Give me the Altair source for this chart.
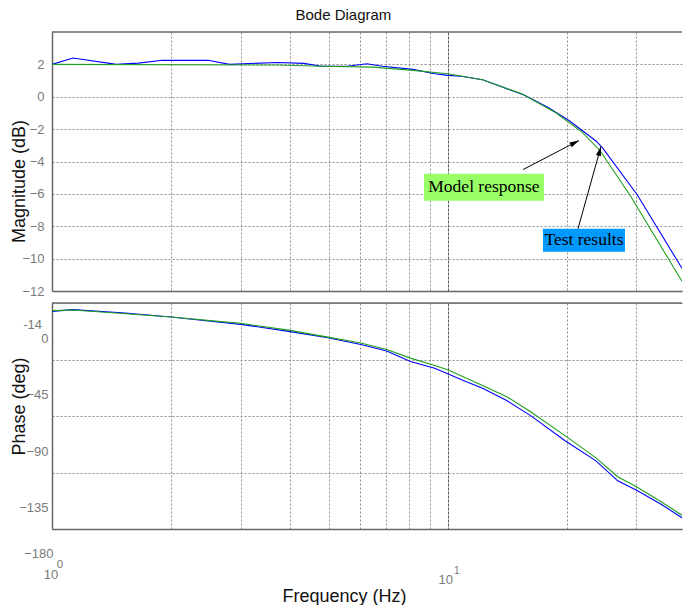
import altair as alt
import pandas as pd

# ---------------- data ----------------
# Magnitude, test results (blue)
mag_test_f = [1.0, 1.13, 1.455, 1.652, 1.9, 2.48, 2.81, 3.72, 4.33, 4.80, 5.58, 6.25,
              6.84, 8.17, 9.27, 10.0, 10.8, 12.25, 15.6, 17.9, 20.3, 23.7, 24.6, 30.1, 39.1]
mag_test_db = [2.0, 2.39, 2.0, 2.08, 2.25, 2.25, 2.0, 2.12, 2.06, 1.88, 1.88, 2.04,
               1.88, 1.69, 1.42, 1.32, 1.27, 1.05, 0.11, -0.65, -1.48, -2.73, -3.14, -6.04, -10.6]
# Magnitude, model response (green)
mag_model_f = [1.0, 3.72, 4.80, 6.5, 8.17, 10.0, 12.25, 15.4, 18.8, 21.9, 24.3, 29.0, 39.1]
mag_model_db = [2.0, 1.96, 1.88, 1.83, 1.63, 1.42, 1.05, 0.18, -1.0, -2.2, -3.35, -6.15, -11.4]

# Phase, test results (blue)
ph_test_f = [1.0, 1.13, 1.53, 2.0, 3.0, 3.96, 4.98, 6.03, 7.01, 8.05, 9.27, 10.0, 10.8,
             12.25, 14.1, 16.2, 19.8, 23.7, 26.9, 30.1, 34.7, 39.1]
ph_test_deg = [-6.7, -5.3, -8.0, -11.2, -17.0, -22.6, -27.7, -33.0, -38.3, -46.6, -51.9,
               -56.4, -61.0, -67.9, -77.7, -89.7, -109.7, -125.7, -141.6, -149.3, -160.5, -171.0]
# Phase, model response (green)
ph_model_f = [1.0, 1.13, 2.0, 3.0, 3.96, 4.98, 6.03, 7.01, 8.05, 9.27, 10.0, 12.25, 14.1,
              16.2, 20.0, 23.7, 26.9, 30.0, 34.7, 39.1]
ph_model_deg = [-6.1, -5.6, -11.2, -16.2, -21.6, -27.2, -31.9, -37.0, -43.9, -49.8, -53.2,
                -65.8, -74.6, -86.6, -106.6, -123.3, -138.4, -146.4, -158.5, -169.0]

# axis ticks / grid
grid_f = [1, 2, 3, 4, 5, 6, 7, 8, 9, 10, 20, 30]
mag_ticks = [2, 0, -2, -4, -6, -8, -10, -12]
phase_ticks = [0, -45, -90, -135, -180]
freq_domain = [1, 39.1]
mag_domain = [-12, 4]
phase_domain = [-180, 0]

# annotations (label boxes and arrows, in data units)
ann_text = ["Model response", "Test results"]
ann_fill = ["#99ff66", "#0099ff"]
ann_box_f0 = [8.71, 17.41]
ann_box_f1 = [17.51, 28.06]
ann_box_db0 = [-4.75, -8.15]
ann_box_db1 = [-6.42, -9.57]
ann_text_f = [12.35, 22.1]
ann_text_db = [-5.58, -8.86]
arrow_f0 = [15.5, 21.35]
arrow_db0 = [-4.5, -8.15]
arrow_f1 = [21.47, 24.4]
arrow_db1 = [-2.7, -3.07]
arrow_angle = [62.4, 15.4]

# ---------------- styling ----------------
BLUE = "#0000ff"
GREEN = "#1f9f1f"
LABEL_GRAY = "#7a7a7a"
BORDER = "#666666"
GRID = "#8f8f8f"
FONT = "Liberation Sans"
SERIF = "Liberation Serif"
W = 630

x_scale = alt.Scale(type="log", domain=freq_domain, nice=False)
grid_color = alt.condition("datum.value == 10", alt.value("#5a5a5a"), alt.value(GRID))
grid_dash = alt.condition("datum.value == 10", alt.value([3, 1]), alt.value([2, 2]))

mag_t = pd.DataFrame({"f": mag_test_f, "v": mag_test_db})
mag_m = pd.DataFrame({"f": mag_model_f, "v": mag_model_db})
ph_t = pd.DataFrame({"f": ph_test_f, "v": ph_test_deg})
ph_m = pd.DataFrame({"f": ph_model_f, "v": ph_model_deg})
boxes_df = pd.DataFrame({"f": ann_box_f0, "f2": ann_box_f1, "v": ann_box_db0, "v2": ann_box_db1,
                         "fill": ann_fill})
texts_df = pd.DataFrame({"f": ann_text_f, "v": ann_text_db, "text": ann_text})
shafts_df = pd.DataFrame({"f": arrow_f0, "f2": arrow_f1, "v": arrow_db0, "v2": arrow_db1})
heads_df = pd.DataFrame({"f": arrow_f1, "v": arrow_db1, "ang": arrow_angle})
mag_top_df = pd.DataFrame({"v": [mag_domain[1]]})
ph_top_df = pd.DataFrame({"v": [phase_domain[1]]})

mag_y_scale = alt.Scale(domain=mag_domain, nice=False, zero=False)
ph_y_scale = alt.Scale(domain=phase_domain, nice=False, zero=False)

X_top = alt.X("f:Q", scale=x_scale,
              axis=alt.Axis(values=grid_f, labels=False, ticks=False, title=None, grid=True,
                            gridColor=grid_color, gridDash=grid_dash, domain=True))
Y_mag = alt.Y("v:Q", scale=mag_y_scale,
              axis=alt.Axis(values=mag_ticks, title="Magnitude (dB)", grid=True, ticks=False,
                            labelOverlap=False, labelPadding=8, titleX=-24, titleY=149))

# ---------------- magnitude panel ----------------
mag_blue = alt.Chart(mag_t).mark_line(color=BLUE, strokeWidth=1.1, clip=True).encode(
    x=X_top, y=Y_mag)
mag_green = alt.Chart(mag_m).mark_line(color=GREEN, strokeWidth=1.1, clip=True).encode(
    x=X_top, y=Y_mag)
boxes = alt.Chart(boxes_df).mark_rect().encode(
    x=X_top, x2="f2:Q", y=Y_mag, y2="v2:Q", fill=alt.Fill("fill:N", scale=None))
texts = alt.Chart(texts_df).mark_text(font=SERIF, fontSize=17.5, color="black").encode(
    x=X_top, y=Y_mag, text="text:N")
shafts = alt.Chart(shafts_df).mark_rule(color="black", strokeWidth=1).encode(
    x=X_top, x2="f2:Q", y=Y_mag, y2="v2:Q")
heads = alt.Chart(heads_df).mark_point(shape="M0,0 L-0.55,2 L0.55,2 Z", filled=True, color="black",
                                       opacity=1, size=90, strokeWidth=0).encode(
    x=X_top, y=Y_mag, angle=alt.Angle("ang:Q", scale=None))
mag_top_border = alt.Chart(mag_top_df).mark_rule(color=BORDER, strokeWidth=1.5).encode(y=Y_mag)

top = alt.layer(mag_blue, mag_green, boxes, texts, shafts, heads, mag_top_border).properties(
    width=W, height=259)

# ---------------- phase panel ----------------
X_bot = alt.X("f:Q", scale=x_scale,
              axis=alt.Axis(values=grid_f, labels=False, ticks=False, grid=True,
                            gridColor=grid_color, gridDash=grid_dash, domain=True,
                            title="Frequency (Hz)", titleX=292, titleY=58))
Y_ph = alt.Y("v:Q", scale=ph_y_scale,
             axis=alt.Axis(values=phase_ticks, title="Phase (deg)", grid=True, ticks=False,
                           labelOverlap=False,
                           labelPadding=alt.condition("datum.value == -180", alt.value(-1), alt.value(4)),
                           labelOffset=alt.condition("datum.value == -180", alt.value(24), alt.value(35)),
                           titleX=-24, titleY=103))

ph_blue = alt.Chart(ph_t).mark_line(color=BLUE, strokeWidth=1.1, clip=True).encode(x=X_bot, y=Y_ph)
ph_green = alt.Chart(ph_m).mark_line(color=GREEN, strokeWidth=1.1, clip=True).encode(x=X_bot, y=Y_ph)
ph_top_border = alt.Chart(ph_top_df).mark_rule(color=BORDER, strokeWidth=1.5).encode(y=Y_ph)
stray_label = alt.Chart(ph_top_df).mark_text(align="right", baseline="middle", font=FONT,
                                             fontSize=13, color=LABEL_GRAY).encode(
    x=alt.value(-10), y=alt.datum(-17.7), text=alt.value("-14"))

dec_df = pd.DataFrame({"f": [1, 10], "base": ["10", "10"], "exp": ["0", "1"]})
dec0 = dec_df.iloc[[0]]
dec1 = dec_df.iloc[[1]]
base0 = alt.Chart(dec0).mark_text(font=FONT, fontSize=13, color=LABEL_GRAY, dx=-1).encode(
    x=X_bot, y=alt.value(272), text="base:N")
exp0 = alt.Chart(dec0).mark_text(font=FONT, fontSize=11.5, color=LABEL_GRAY, dx=8).encode(
    x=X_bot, y=alt.value(262), text="exp:N")
base1 = alt.Chart(dec1).mark_text(font=FONT, fontSize=13, color=LABEL_GRAY, dx=-2).encode(
    x=X_bot, y=alt.value(277), text="base:N")
exp1 = alt.Chart(dec1).mark_text(font=FONT, fontSize=10, color=LABEL_GRAY, dx=9).encode(
    x=X_bot, y=alt.value(268), text="exp:N")

bottom = alt.layer(ph_blue, ph_green, ph_top_border, stray_label, base0, exp0, base1, exp1).properties(
    width=W, height=226)

chart = alt.vconcat(top, bottom, spacing=12, bounds="flush").properties(
    title=alt.Title("Bode Diagram", anchor="middle", dx=-3, offset=8),
    padding={"left": 10, "top": 8, "right": 0, "bottom": 0},
).configure_view(stroke=None).configure_axis(
    labelFont=FONT, titleFont=FONT, labelColor=LABEL_GRAY, labelFontSize=13,
    titleFontSize=18, titleColor="#111111", titleFontWeight="normal",
    domainColor=BORDER, domainWidth=1.5, gridWidth=1, gridColor=GRID, gridDash=[2, 2],
).configure_title(font=FONT, fontSize=15, fontWeight="normal", color="#111111")

chart.save("out.html", embed_options={"renderer": "svg", "actions": False})
